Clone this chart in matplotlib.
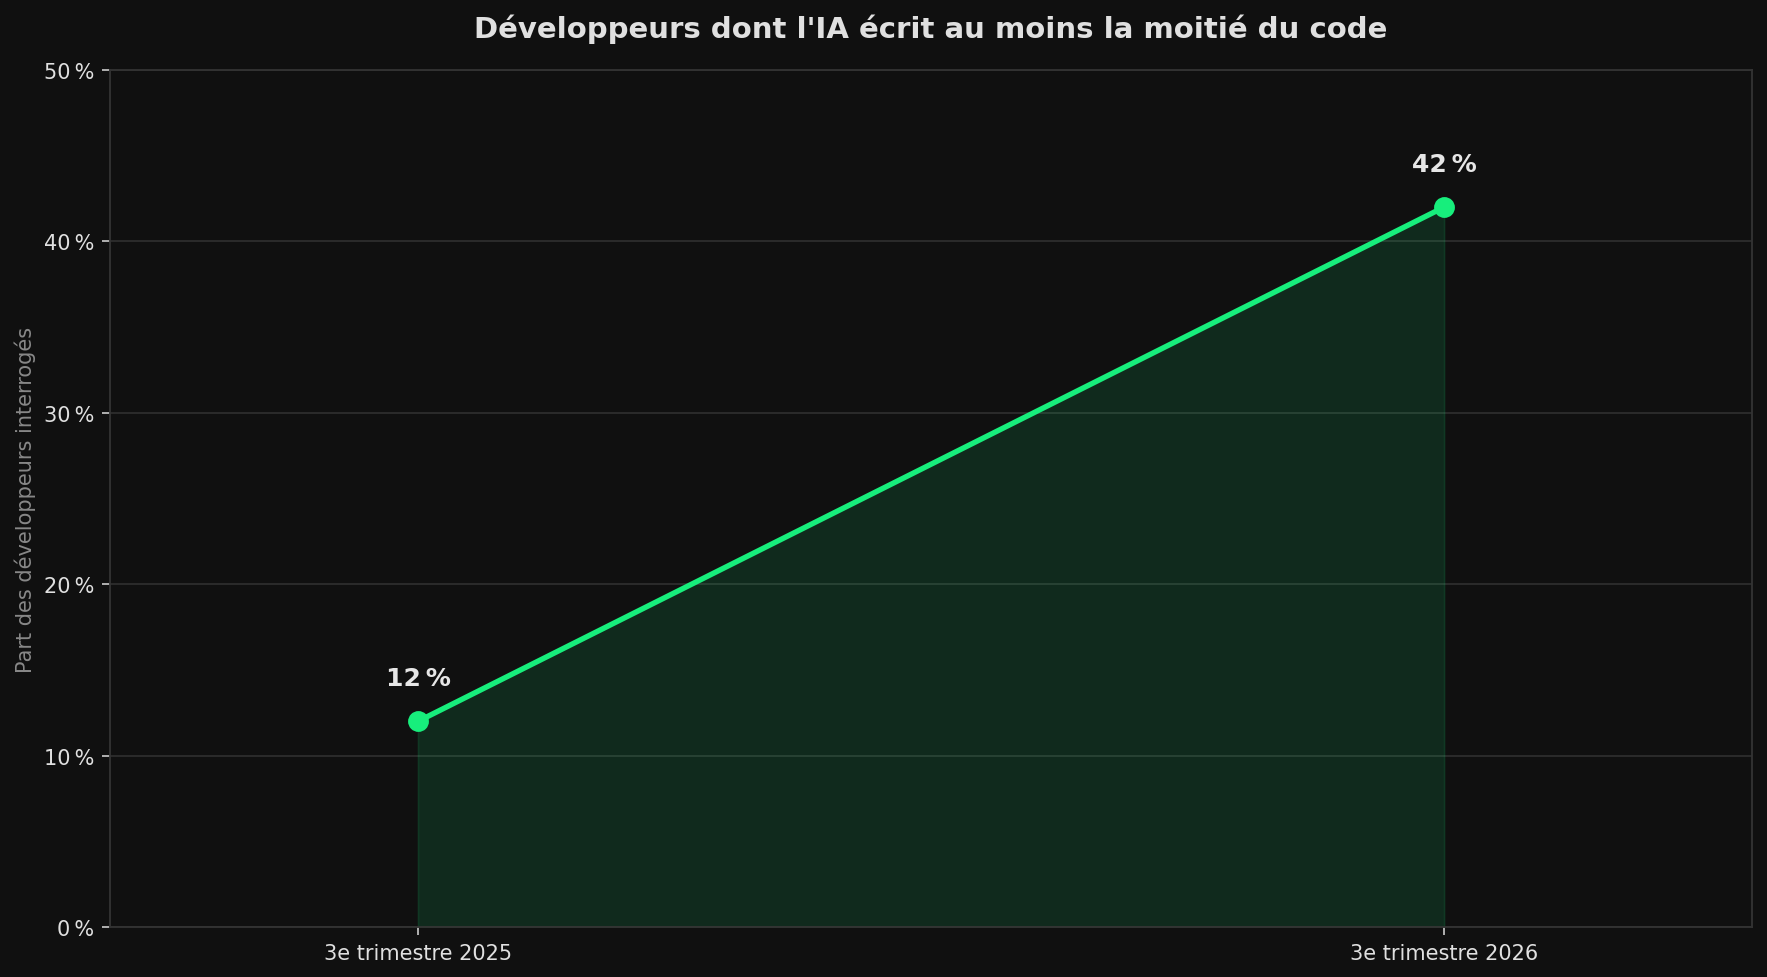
import matplotlib.pyplot as plt
from matplotlib.ticker import FuncFormatter

periods = ["3e trimestre 2025", "3e trimestre 2026"]
shares = [12, 42]
yticks = [0, 10, 20, 30, 40, 50]

title = "Développeurs dont l'IA écrit au moins la moitié du code"
ylabel = "Part des développeurs interrogés"

bg = "#101010"
green = "#17ee7c"


def main():
    fig = plt.figure(figsize=(11.78, 6.52), dpi=150, facecolor=bg)
    ax = fig.add_axes([0.0623, 0.0511, 0.9292, 0.8763])
    ax.set_facecolor(bg)

    xs = list(range(len(periods)))
    ax.fill_between(xs, shares, 0, color=green, alpha=0.12, lw=0.8)
    ax.plot(xs, shares, color=green, lw=2.6, marker="o", markersize=9, zorder=3)

    for x, v in zip(xs, shares):
        ax.annotate(f"{v}\u202f%", (x, v), xytext=(0, 15), textcoords="offset points",
                    ha="center", va="bottom", fontsize=12, fontweight="bold",
                    color="#e6e6e6")

    ax.set_xlim(-0.3, 1.3)
    ax.set_ylim(0, 50)
    ax.set_xticks(xs)
    ax.set_xticklabels(periods)
    ax.set_yticks(yticks)
    ax.yaxis.set_major_formatter(FuncFormatter(lambda v, p: f"{v:.0f}\u202f%"))

    ax.grid(axis="y", color="#2c2c2c", lw=0.9)
    ax.set_axisbelow(True)
    for s in ax.spines.values():
        s.set_color("#333333")
        s.set_linewidth(0.9)
    ax.tick_params(colors="#cccccc", labelcolor="#e0e0e0", labelsize=10, length=4)

    ax.set_ylabel(ylabel, color="#888888", fontsize=10, labelpad=4)
    ax.set_title(title, color="#e0e0e0", fontsize=14, fontweight="bold", pad=16)

    fig.savefig("out.png", dpi=150, facecolor=bg)


if __name__ == "__main__":
    main()
